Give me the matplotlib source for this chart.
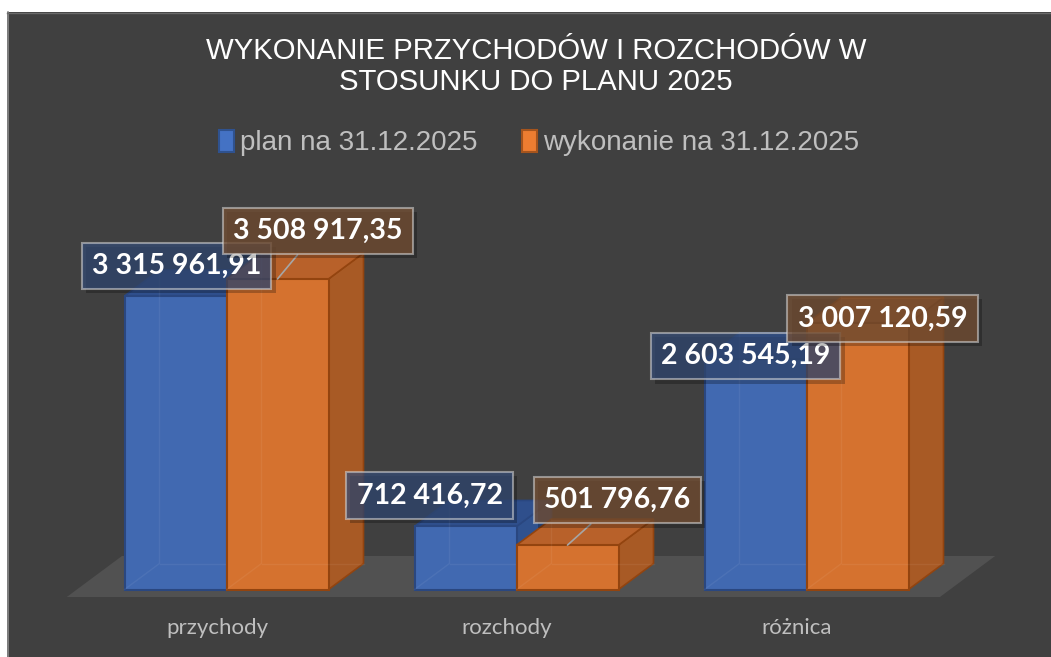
import matplotlib.pyplot as plt
from matplotlib.patches import Polygon, Rectangle, Patch
from matplotlib.lines import Line2D
import matplotlib.patheffects as pe

categories = ['przychody', 'rozchody', 'różnica']
plan = [3315961.91, 712416.72, 2603545.19]
wykonanie = [3508917.35, 501796.76, 3007120.59]
series_names = ['plan na 31.12.2025', 'wykonanie na 31.12.2025']
title = 'WYKONANIE PRZYCHODÓW I ROZCHODÓW W\nSTOSUNKU DO PLANU 2025'

W, H = 1051, 657
bg = '#404040'

# pixel geometry of the "3D" chart
px_cat = 290.0          # pixels between category centres
px_val = 88.5e-6        # pixels per unit of value
x0_px, y0_px = 226.5, 589.5
bw = 102 / px_cat       # bar width in category units
dx = 35 / px_cat        # depth offset
dy = 26 / px_val


def fmt(v):
    return f'{v:,.2f}'.replace(',', ' ').replace('.', ',')


fig = plt.figure(figsize=(W / 100, H / 100), dpi=100)
fig.patch.set_facecolor(bg)
ax = fig.add_axes([0, 0, 1, 1])
ax.set_xlim(-x0_px / px_cat, (W - x0_px) / px_cat)
ax.set_ylim(-(H - y0_px) / px_val, y0_px / px_val)
ax.axis('off')

# white margins of the original screenshot
fig.add_artist(Rectangle((0, 0), 7 / W, 1, transform=fig.transFigure, fc='white', ec='none'))
fig.add_artist(Rectangle((0, 1 - 12 / H), 1, 12 / H, transform=fig.transFigure, fc='white', ec='none'))
fig.add_artist(Line2D([7.5 / W, 7.5 / W], [0, 1 - 12 / H], transform=fig.transFigure, color='#8a8a8a', lw=1.2))
fig.add_artist(Line2D([7 / W, 1], [1 - 12.5 / H, 1 - 12.5 / H], transform=fig.transFigure, color='#6a6a6a', lw=1))

# floor
fx0, fx1 = -0.516, len(categories) - 1 + 0.495
fd = 0.29
floor = Polygon([(fx0 - fd * dx, -fd * dy), (fx1 - fd * dx, -fd * dy),
                 (fx1 + (1 + fd) * dx, (1 + fd) * dy), (fx0 + (1 + fd) * dx, (1 + fd) * dy)],
                closed=True, fc='#515151', ec='none', zorder=1)
ax.add_patch(floor)


def box(x, h, front, side, top, edge, z):
    side_p = [(x + bw, 0), (x + bw + dx, dy), (x + bw + dx, h + dy), (x + bw, h)]
    top_p = [(x, h), (x + bw, h), (x + bw + dx, h + dy), (x + dx, h + dy)]
    ax.add_patch(Polygon(side_p, closed=True, fc=side, ec=edge, lw=1.2, zorder=z))
    ax.add_patch(Polygon(top_p, closed=True, fc=top, ec=edge, lw=1.2, zorder=z))
    ax.add_patch(Rectangle((x, 0), bw, h, fc=front, ec=edge, lw=1.5, zorder=z + 0.1))
    # faint hidden edges (Excel draws the boxes a bit transparent)
    ax.plot([x, x + dx, x + dx], [0, dy, h + dy], color='white', alpha=0.06, lw=1, zorder=z + 0.2)
    ax.plot([x + dx, x + bw + dx], [dy, dy], color='white', alpha=0.06, lw=1, zorder=z + 0.2)


blue = dict(front='#4169b1', side='#30528f', top='#2f4f8c', edge='#2a4780')
orange = dict(front='#d5722f', side='#a85a25', top='#b8612a', edge='#93440f')

for i in range(len(categories)):
    box(i - bw, plan[i], z=2 + i, **blue)
    box(i, wykonanie[i], z=2.5 + i, **orange)

# data labels: offsets (pixels) from the front top edge of each bar, leader line on/off
plan_off = [(1, 30), (-36, 31), (-10, 3)]
wyk_off = [(40, 48), (50, 45), (25, 5)]
wyk_line = [True, True, False]
shadow = [pe.SimplePatchShadow(offset=(3, -3), shadow_rgbFace='black', alpha=0.25), pe.Normal()]
lab_kw = dict(textcoords='offset pixels', ha='center', va='center', color='white',
              fontsize=20.5, fontweight='bold', family='Lato', zorder=10)

for i in range(len(categories)):
    a = ax.annotate(fmt(plan[i]), xy=(i - bw / 2, plan[i]), xytext=plan_off[i],
                    bbox=dict(boxstyle='square,pad=0.36', fc=(0.2, 0.29, 0.46, 0.72),
                              ec=(0.85, 0.85, 0.85, 0.55), lw=1.5), **lab_kw)
    a.get_bbox_patch().set_path_effects(shadow)
    a = ax.annotate(fmt(wykonanie[i]), xy=(i + bw / 2, wykonanie[i]), xytext=wyk_off[i],
                    bbox=dict(boxstyle='square,pad=0.36', fc=(0.46, 0.31, 0.2, 0.75),
                              ec=(0.85, 0.85, 0.85, 0.55), lw=1.5),
                    arrowprops=dict(arrowstyle='-', color='#a6a6a6', lw=1.2, shrinkA=0, shrinkB=0)
                    if wyk_line[i] else None, **lab_kw)
    a.get_bbox_patch().set_path_effects(shadow)

# category labels
for i, c in enumerate(categories):
    ax.annotate(c, xy=(i, 0), xytext=(-9.5, -38.5), textcoords='offset pixels',
                ha='center', va='center', color='#bfbfbf', fontsize=16, family='Lato')

fig.text(536 / W, 1 - 66.5 / H, title, ha='center', va='center', color='white',
         fontsize=21.2, family=['Liberation Sans Narrow', 'Liberation Sans'], linespacing=1.1)

handles = [Patch(fc='#4472c4', ec='#2f528f', lw=1.5), Patch(fc='#ed7d31', ec='#a5541d', lw=1.5)]
leg = ax.legend(handles, series_names, loc='center', bbox_to_anchor=(539 / W, 1 - 143 / H),
                bbox_transform=fig.transFigure, ncol=2, frameon=False,
                labelcolor='#bfbfbf', handlelength=0.55, handleheight=0.85, handletextpad=0.2,
                columnspacing=1.6, prop={'family': ['Liberation Sans Narrow', 'Liberation Sans'], 'size': 20})

fig.savefig('out.png', dpi=100, facecolor=bg)
